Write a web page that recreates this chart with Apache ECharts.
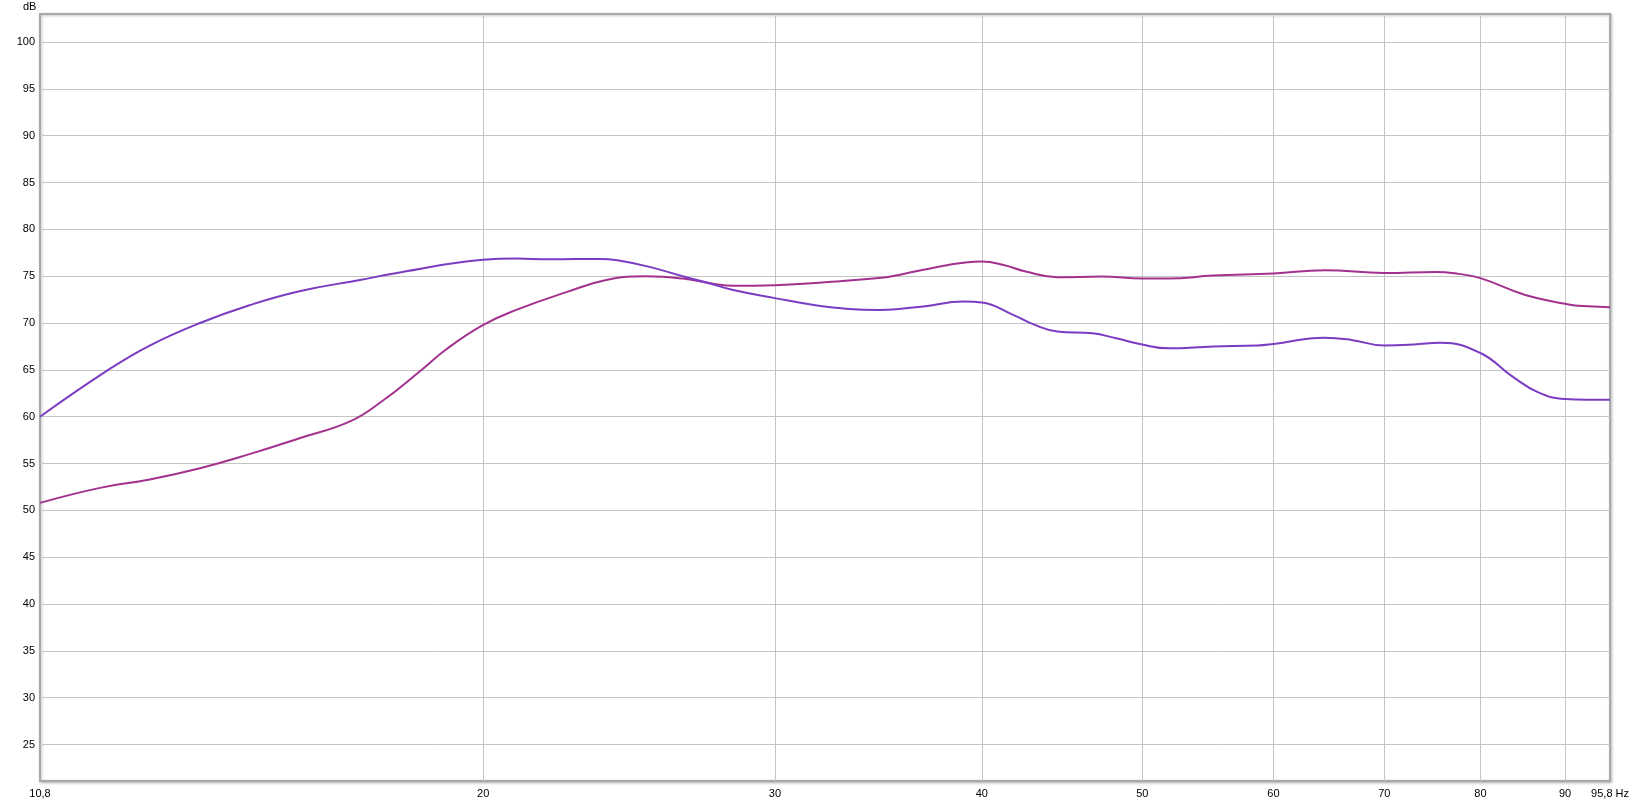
<!DOCTYPE html>
<html>
<head>
<meta charset="utf-8">
<script src="https://cdn.jsdelivr.net/npm/echarts@6/dist/echarts.min.js"></script>
<style>
html,body{margin:0;padding:0;background:#fff;}
#chart{width:1632px;height:802px;}
</style>
</head>
<body>
<div id="chart"></div>
<script>
// Frequency (Hz) and level (dB)
const purpleFreq = [10.8, 11.9, 12.58, 13.49, 14.45, 15.49, 16.85, 17.81, 20.0, 20.94, 21.93, 23.51, 24.1, 25.2, 26.39, 27.38, 28.27, 30.0, 31.74, 33.25, 34.66, 35.64, 36.88, 39.0, 40.0, 41.75, 43.05, 44.42, 46.66, 48.14, 50.0, 51.86, 55.18, 58.68, 60.0, 64.42, 66.88, 70.0, 72.93, 75.66, 80.0, 83.62, 86.7, 90.0, 95.8];
const purpleDb   = [60.0, 65.1, 67.6, 70.0, 71.9, 73.4, 74.6, 75.4, 76.75, 76.88, 76.81, 76.85, 76.7, 76.0, 75.0, 74.25, 73.55, 72.66, 71.9, 71.5, 71.4, 71.5, 71.77, 72.3, 72.2, 70.9, 69.8, 69.1, 68.9, 68.4, 67.7, 67.3, 67.5, 67.6, 67.77, 68.44, 68.2, 67.6, 67.7, 67.9, 66.8, 64.3, 62.6, 61.9, 61.8];

const magentaFreq = [10.8, 11.74, 12.58, 13.49, 14.45, 15.49, 16.62, 17.39, 18.3, 19.0, 20.0, 20.94, 22.45, 23.73, 25.08, 26.39, 27.64, 28.27, 30.0, 32.47, 34.66, 35.64, 36.88, 39.22, 40.0, 41.23, 42.51, 44.42, 47.25, 50.0, 51.86, 55.18, 60.0, 64.42, 70.0, 75.24, 77.58, 80.0, 85.15, 90.0, 91.65, 95.8];
const magentaDb   = [50.8, 52.4, 53.3, 54.5, 56.0, 57.7, 59.5, 61.7, 64.8, 67.2, 69.8, 71.4, 73.3, 74.6, 75.0, 74.75, 74.15, 73.97, 74.04, 74.4, 74.8, 75.14, 75.7, 76.5, 76.56, 76.2, 75.5, 74.9, 74.96, 74.75, 74.75, 75.07, 75.3, 75.64, 75.35, 75.46, 75.25, 74.8, 73.0, 72.06, 71.84, 71.7];

const xGridValues  = [20, 30, 40, 50, 60, 70, 80, 90];
const xLabelValues = [10.8, 20, 30, 40, 50, 60, 70, 80, 90, 95.8];
const yTickValues  = [25, 30, 35, 40, 45, 50, 55, 60, 65, 70, 75, 80, 85, 90, 95, 100];

const zip = (a, b) => a.map((v, i) => [v, b[i]]);

const chart = echarts.init(document.getElementById('chart'), null, {renderer: 'canvas'});
const font = 'Arial, "Liberation Sans", sans-serif';
chart.setOption({
  animation: false,
  backgroundColor: '#fff',
  grid: {
    left: 40, top: 14, right: 20, bottom: 21,
    show: true, borderColor: '#a8a8a8', borderWidth: 2,
    backgroundColor: '#fff',
    shadowColor: 'rgba(0,0,0,0.25)', shadowBlur: 3, shadowOffsetX: 1, shadowOffsetY: 1
  },
  graphic: [{
    type: 'text', left: 23, top: 1,
    style: {text: 'dB', fontSize: 11, fontFamily: font, fill: '#000'}
  }],
  xAxis: {
    type: 'log', logBase: 10, min: 10.8, max: 95.8,
    axisLine: {show: false},
    axisTick: {show: false, customValues: xGridValues},
    splitLine: {show: true, lineStyle: {color: '#c4c4c4', width: 1}},
    axisLabel: {
      customValues: xLabelValues, color: '#000', fontSize: 11, fontFamily: font, margin: 7,
      formatter: v => {
        const s = String(Math.round(v * 10) / 10).replace('.', ',');
        return Math.abs(v - 95.8) < 0.01 ? s + ' Hz' : s;
      }
    }
  },
  yAxis: {
    type: 'value', min: 21.1, max: 103,
    axisLine: {show: false},
    axisTick: {show: false, customValues: yTickValues},
    splitLine: {show: true, lineStyle: {color: '#c4c4c4', width: 1}},
    axisLabel: {customValues: yTickValues, color: '#000', fontSize: 11, fontFamily: font, margin: 5}
  },
  series: [
    {
      type: 'line', data: zip(magentaFreq, magentaDb), smooth: 0.45, showSymbol: false,
      lineStyle: {color: '#a3328f', width: 2}
    },
    {
      type: 'line', data: zip(purpleFreq, purpleDb), smooth: 0.45, showSymbol: false,
      lineStyle: {color: '#7b3cc2', width: 2}
    }
  ]
});
</script>
</body>
</html>
